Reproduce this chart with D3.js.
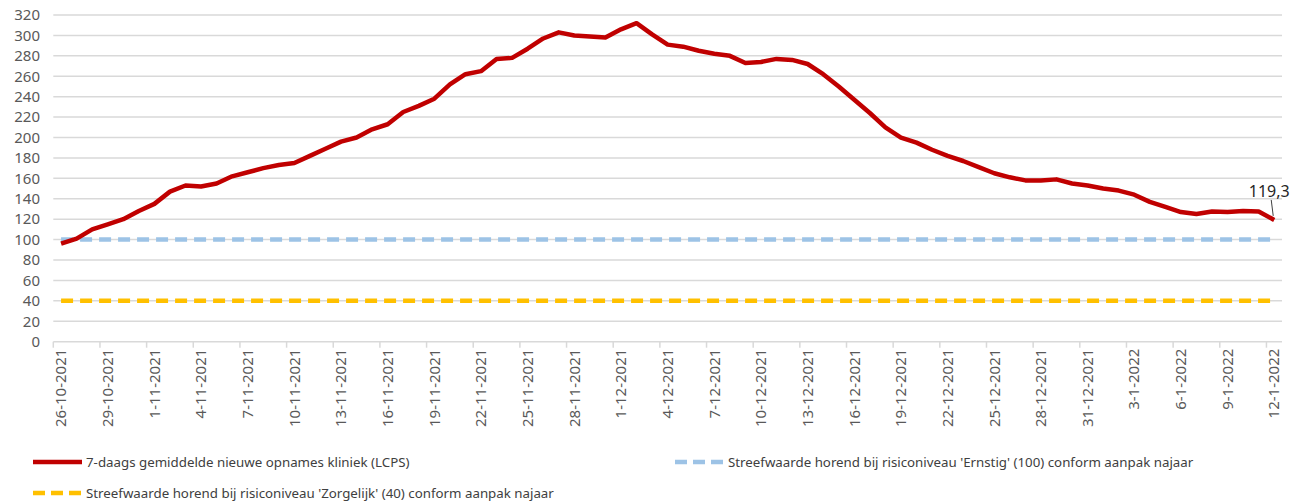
<!DOCTYPE html>
<html lang="nl">
<head>
    <meta charset="UTF-8">
    <title>7-daags gemiddelde nieuwe opnames kliniek</title>
    <script src="https://cdn.jsdelivr.net/npm/d3@7"></script>
    <style>
        body { margin: 0; background: #fff; }
        svg { display: block; font-family: "Noto Sans", "Open Sans", sans-serif; }
        .grid line { stroke: #d9d9d9; stroke-width: 1.5; }
        .ylab { fill: #595959; font-size: 15px; text-anchor: end; }
        .xlab { fill: #595959; font-size: 15px; }
        .legend text { fill: #404040; font-size: 13.3px; }
    </style>
</head>
<body>
    <script>
        // Categories (dates) and series values
        const dates = [
            "26-10-2021","27-10-2021","28-10-2021","29-10-2021","30-10-2021","31-10-2021",
            "1-11-2021","2-11-2021","3-11-2021","4-11-2021","5-11-2021","6-11-2021","7-11-2021",
            "8-11-2021","9-11-2021","10-11-2021","11-11-2021","12-11-2021","13-11-2021","14-11-2021",
            "15-11-2021","16-11-2021","17-11-2021","18-11-2021","19-11-2021","20-11-2021","21-11-2021",
            "22-11-2021","23-11-2021","24-11-2021","25-11-2021","26-11-2021","27-11-2021","28-11-2021",
            "29-11-2021","30-11-2021",
            "1-12-2021","2-12-2021","3-12-2021","4-12-2021","5-12-2021","6-12-2021","7-12-2021",
            "8-12-2021","9-12-2021","10-12-2021","11-12-2021","12-12-2021","13-12-2021","14-12-2021",
            "15-12-2021","16-12-2021","17-12-2021","18-12-2021","19-12-2021","20-12-2021","21-12-2021",
            "22-12-2021","23-12-2021","24-12-2021","25-12-2021","26-12-2021","27-12-2021","28-12-2021",
            "29-12-2021","30-12-2021","31-12-2021",
            "1-1-2022","2-1-2022","3-1-2022","4-1-2022","5-1-2022","6-1-2022","7-1-2022",
            "8-1-2022","9-1-2022","10-1-2022","11-1-2022","12-1-2022"
        ];

        const opnames = [
            96, 101, 110, 115, 120, 128, 135, 147, 153, 152, 155, 162, 166, 170, 173, 175, 182, 189,
            196, 200, 208, 213, 225, 231, 238, 252, 262,
            265, 277, 278, 287, 297, 303, 300, 299, 298, 306, 312,
            301, 291, 289, 285, 282, 280, 273, 274, 277, 276, 272, 262, 250, 237, 224, 210, 200, 195, 188, 182, 177,
            171, 165, 161, 158, 158, 159, 155, 153, 150, 148, 144, 137, 132, 127, 125, 127.5, 127, 128, 127.5, 119.3
        ];

        const ernstig = 100;
        const zorgelijk = 40;
        const yTicks = [0, 20, 40, 60, 80, 100, 120, 140, 160, 180, 200, 220, 240, 260, 280, 300, 320];

        const seriesNames = [
            "7-daags gemiddelde nieuwe opnames kliniek (LCPS)",
            "Streefwaarde horend bij risiconiveau 'Ernstig' (100) conform aanpak najaar",
            "Streefwaarde horend bij risiconiveau 'Zorgelijk' (40) conform aanpak najaar"
        ];

        const W = 1296, H = 504;
        const plot = {left: 53.3, right: 1282, top: 15, bottom: 341.7};

        const svg = d3.select("body").append("svg")
            .attr("width", W)
            .attr("height", H);

        const x = d3.scaleBand()
            .domain(dates)
            .range([plot.left, plot.right])
            .padding(0);

        const y = d3.scaleLinear()
            .domain([0, 320])
            .range([plot.bottom, plot.top]);

        const cx = d => x(d) + x.bandwidth() / 2;

        // Gridlines
        svg.append("g").attr("class", "grid")
            .selectAll("line")
            .data(yTicks.filter(t => t > 0))
            .enter().append("line")
            .attr("x1", plot.left).attr("x2", plot.right)
            .attr("y1", d => y(d)).attr("y2", d => y(d));

        // Y labels
        svg.append("g")
            .selectAll("text")
            .data(yTicks)
            .enter().append("text")
            .attr("class", "ylab")
            .attr("x", 40)
            .attr("y", d => y(d))
            .attr("dy", "0.35em")
            .text(d => d);

        // X axis line and ticks (between categories, every third)
        const xa = svg.append("g");
        xa.append("line")
            .attr("x1", plot.left).attr("x2", plot.right)
            .attr("y1", plot.bottom).attr("y2", plot.bottom)
            .attr("stroke", "#d9d9d9").attr("stroke-width", 1.5);

        const labelDates = dates.filter((d, i) => i % 3 === 0);

        xa.selectAll(".tick")
            .data(labelDates)
            .enter().append("line")
            .attr("x1", d => x(d)).attr("x2", d => x(d))
            .attr("y1", plot.bottom).attr("y2", plot.bottom + 6)
            .attr("stroke", "#d9d9d9").attr("stroke-width", 1.5);

        xa.selectAll(".xlab")
            .data(labelDates)
            .enter().append("text")
            .attr("class", "xlab")
            .attr("text-anchor", "end")
            .attr("transform", d => `translate(${cx(d)},${plot.bottom + 7}) rotate(-90)`)
            .attr("dy", "0.35em")
            .text(d => d);

        // Target lines
        const flat = v => d3.line()
            .x(d => cx(d))
            .y(() => y(v));

        svg.append("path")
            .datum(dates)
            .attr("d", flat(zorgelijk))
            .attr("fill", "none")
            .attr("stroke", "#ffc000")
            .attr("stroke-width", 4.5)
            .attr("stroke-dasharray", "12,7");

        svg.append("path")
            .datum(dates)
            .attr("d", flat(ernstig))
            .attr("fill", "none")
            .attr("stroke", "#9dc3e6")
            .attr("stroke-width", 4.5)
            .attr("stroke-dasharray", "12,7");

        // Main series
        const line = d3.line()
            .x((d, i) => cx(dates[i]))
            .y(d => y(d));

        svg.append("path")
            .datum(opnames)
            .attr("d", line)
            .attr("fill", "none")
            .attr("stroke", "#c00000")
            .attr("stroke-width", 4.5)
            .attr("stroke-linejoin", "round");

        // Last value label with leader line
        const lastDate = dates[dates.length - 1];
        const lastVal = opnames[opnames.length - 1];
        svg.append("line")
            .attr("x1", cx(lastDate) - 3).attr("y1", y(lastVal) - 20)
            .attr("x2", cx(lastDate) - 1).attr("y2", y(lastVal) - 4)
            .attr("stroke", "#404040").attr("stroke-width", 1);
        svg.append("text")
            .attr("x", cx(lastDate) - 5)
            .attr("y", y(lastVal) - 23)
            .attr("text-anchor", "middle")
            .attr("fill", "#262626")
            .style("font-size", "16px")
            .text(String(lastVal).replace(".", ","));

        // Legend
        const legend = svg.append("g").attr("class", "legend");
        const items = [
            {name: seriesNames[0], color: "#c00000", dash: null, x0: 33, yy: 462},
            {name: seriesNames[1], color: "#9dc3e6", dash: "12,6", x0: 675, yy: 462},
            {name: seriesNames[2], color: "#ffc000", dash: "12,6", x0: 33, yy: 493}
        ];
        items.forEach(it => {
            legend.append("line")
                .attr("x1", it.x0).attr("x2", it.x0 + 49)
                .attr("y1", it.yy).attr("y2", it.yy)
                .attr("stroke", it.color)
                .attr("stroke-width", 4.5)
                .attr("stroke-dasharray", it.dash);
            legend.append("text")
                .attr("x", it.x0 + 53)
                .attr("y", it.yy)
                .attr("dy", "0.35em")
                .text(it.name);
        });
    </script>
</body>
</html>
